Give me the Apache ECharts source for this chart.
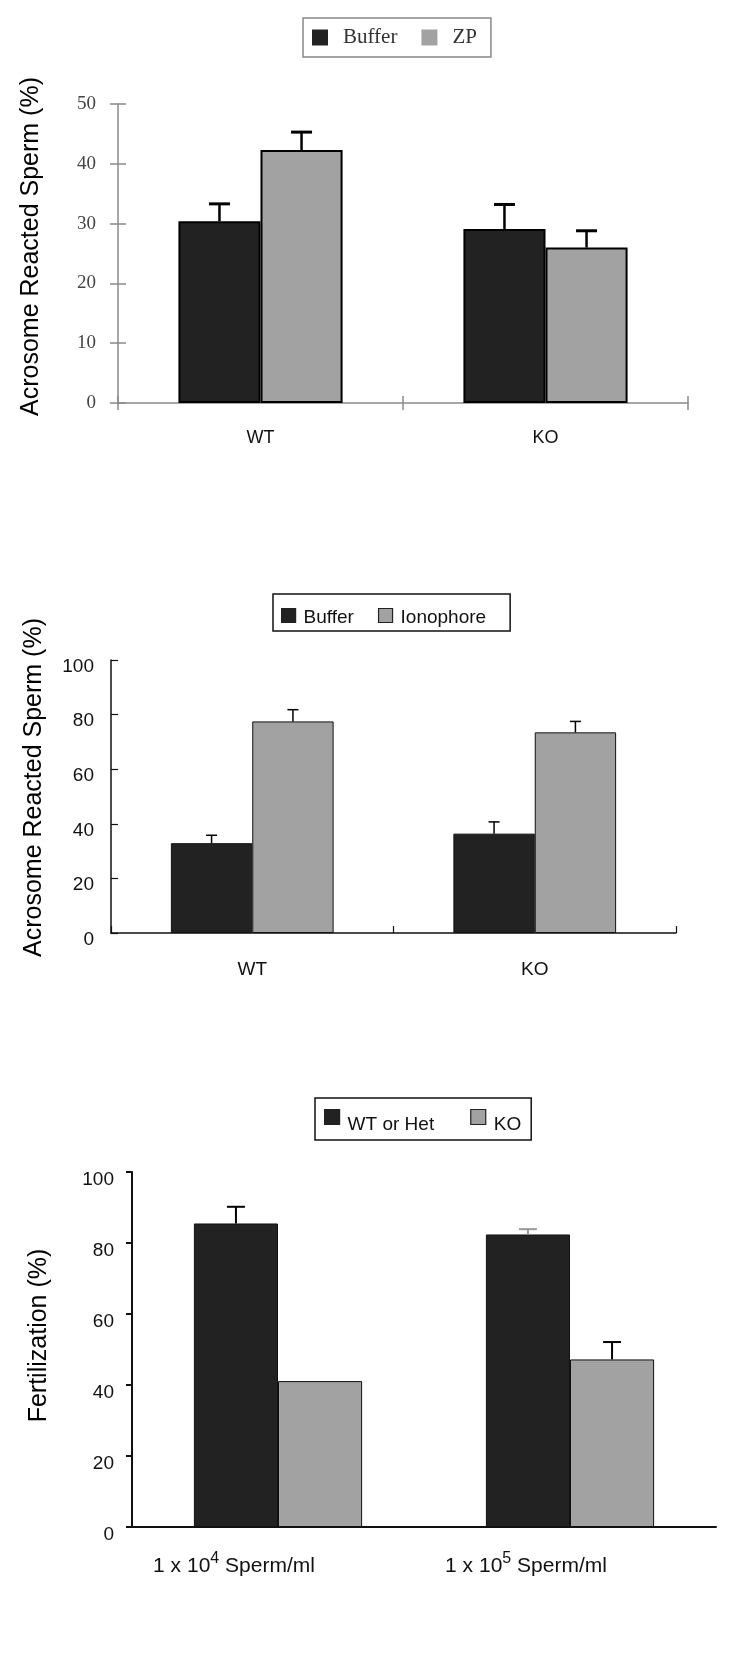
<!DOCTYPE html>
<html>
<head>
<meta charset="utf-8">
<script src="https://cdn.jsdelivr.net/npm/echarts/dist/echarts.min.js"></script>
<style>
  html, body { margin: 0; padding: 0; background: #fff; }
  #wrap { position: relative; width: 750px; height: 1654px; }
  .c { position: absolute; left: 0; width: 750px; }
</style>
</head>
<body>
<div id="wrap">
  <div id="c1" class="c" style="top:0;height:520px"></div>
  <div id="c2" class="c" style="top:520px;height:520px"></div>
  <div id="c3" class="c" style="top:1040px;height:614px"></div>
</div>
<script>
// ---------- data ----------
const cats1 = ['WT', 'KO'];
const names1 = ['Buffer', 'ZP'];
const buffer1 = [30.4, 29.1];
const buffer1Err = [2.9, 4.1];
const zp1 = [42.3, 26.0];
const zp1Err = [3.0, 2.8];
const yTicks1 = { min: 0, max: 50, interval: 10 };
const yTitle1 = 'Acrosome Reacted Sperm (%)';

const cats2 = ['WT', 'KO'];
const names2 = ['Buffer', 'Ionophore'];
const buffer2 = [32.9, 36.4];
const buffer2Err = [2.9, 4.3];
const iono2 = [77.5, 73.5];
const iono2Err = [4.3, 4.0];
const yTicks2 = { min: 0, max: 100, interval: 20 };
const yTitle2 = 'Acrosome Reacted Sperm (%)';

const cats3 = ['1 x 10^4 Sperm/ml', '1 x 10^5 Sperm/ml'];
const names3 = ['WT or Het', 'KO'];
const wt3 = [85.5, 82.4];
const wt3Err = [4.7, 1.5];
const ko3 = [41.1, 47.2];
const ko3Err = [0, 4.9];
const yTicks3 = { min: 0, max: 100, interval: 20 };
const yTitle3 = 'Fertilization (%)';

// ---------- styles ----------
const DARK = '#222222';
const GRAY = '#a2a2a2';
const GAP = 0.424;   // bar category gap fraction

function errSeries(values, errs, side, opt) {
  return {
    type: 'custom',
    xAxisIndex: 0, yAxisIndex: 0,
    z: 10,
    silent: true,
    data: values.map((v, i) => [i, v, errs[i]]),
    encode: { x: 0, y: 1 },
    renderItem: function (params, api) {
      const i = api.value(0), v = api.value(1), e = api.value(2);
      if (!e) return null;
      const p0 = api.coord([i, v]);
      const p1 = api.coord([i, v + e]);
      const band = api.size([1, 0])[0];
      const bw = band * (1 - GAP) / 2;
      const x = p0[0] + (side === 0 ? -bw / 2 : bw / 2);
      const col = (opt.capColors && opt.capColors[i]) || '#000';
      return {
        type: 'group',
        children: [
          { type: 'line', shape: { x1: x, y1: p0[1], x2: x, y2: p1[1] },
            style: { stroke: col, lineWidth: opt.lw } },
          { type: 'line', shape: { x1: x - opt.cap / 2, y1: p1[1], x2: x + opt.cap / 2, y2: p1[1] },
            style: { stroke: col, lineWidth: opt.capLw || opt.lw } }
        ]
      };
    }
  };
}

function barSeries(name, data, color, borderColor, borderWidth) {
  return {
    name: name, type: 'bar', data: data,
    barCategoryGap: (GAP * 100) + '%', barGap: '0%',
    itemStyle: { color: color, borderColor: borderColor, borderWidth: borderWidth },
    z: 2
  };
}

// ---------- chart 1 ----------
(function () {
  const ch = echarts.init(document.getElementById('c1'), null, { renderer: 'canvas' });
  const axCol = '#8a8a8a';
  ch.setOption({
    animation: false,
    legend: {
      left: 303, top: 18, padding: [9, 14, 9, 9],
      itemWidth: 16, itemHeight: 16, itemGap: 24, icon: 'rect',
      borderColor: '#888', borderWidth: 1.5,
      data: names1,
      itemStyle: { borderWidth: 0 },
      textStyle: { fontFamily: 'Liberation Serif', fontSize: 21, color: '#333', padding: [0, 0, 0, 10] }
    },
    grid: { left: 118, right: 62, top: 104, bottom: 117 },
    xAxis: [
      { type: 'category', data: cats1,
        axisLine: { lineStyle: { color: axCol, width: 1.5 } },
        axisTick: { show: true, length: 7, lineStyle: { color: axCol, width: 1.5 } },
        axisLabel: { margin: 26, fontFamily: 'Liberation Sans', fontSize: 18, color: '#111' } },
      { type: 'category', data: cats1, position: 'bottom',
        axisLine: { show: false },
        axisTick: { show: true, inside: true, length: 7, lineStyle: { color: axCol, width: 1.5 } },
        axisLabel: { show: false } }
    ],
    yAxis: [
      Object.assign({ type: 'value', splitLine: { show: false },
        axisLine: { show: true, lineStyle: { color: axCol, width: 1.5 } },
        axisTick: { show: true, length: 8, lineStyle: { color: axCol, width: 1.5 } },
        axisLabel: { margin: 22, fontFamily: 'Liberation Serif', fontSize: 19, color: '#444' },
        name: yTitle1, nameLocation: 'middle', nameGap: 74,
        nameTextStyle: { fontFamily: 'Liberation Sans', fontSize: 25, color: '#000', padding: [0, 0, 0, 14] } }, yTicks1),
      Object.assign({ type: 'value', position: 'left', splitLine: { show: false },
        axisLine: { show: false },
        axisTick: { show: true, inside: true, length: 8, lineStyle: { color: axCol, width: 1.5 } },
        axisLabel: { show: false } }, yTicks1)
    ],
    series: [
      barSeries(names1[0], buffer1, DARK, '#000', 2),
      barSeries(names1[1], zp1, GRAY, '#000', 2),
      errSeries(buffer1, buffer1Err, 0, { lw: 2.5, cap: 21, capLw: 3 }),
      errSeries(zp1, zp1Err, 1, { lw: 2.5, cap: 21, capLw: 3 })
    ]
  });
})();

// ---------- chart 2 ----------
(function () {
  const ch = echarts.init(document.getElementById('c2'), null, { renderer: 'canvas' });
  const axCol = '#111';
  ch.setOption({
    animation: false,
    legend: {
      left: 273, top: 74, padding: [10, 24, 4, 8],
      itemWidth: 14, itemHeight: 14, itemGap: 24, icon: 'rect',
      borderColor: '#111', borderWidth: 1.5,
      data: names2,
      itemStyle: { borderColor: '#222', borderWidth: 1.2 },
      formatter: '{t|{name}}',
      textStyle: { fontFamily: 'Liberation Sans', fontSize: 19, color: '#111',
        rich: { t: { fontFamily: 'Liberation Sans', fontSize: 19, color: '#111', lineHeight: 14, padding: [4, 0, 0, 3] } } }
    },
    grid: { left: 111, right: 74, top: 140, bottom: 107 },
    xAxis: [
      { type: 'category', data: cats2,
        axisLine: { lineStyle: { color: axCol, width: 1.5 } },
        axisTick: { show: true, inside: true, length: 7, lineStyle: { color: axCol, width: 1.2 } },
        axisLabel: { margin: 27, fontFamily: 'Liberation Sans', fontSize: 19, color: '#111' } }
    ],
    yAxis: [
      Object.assign({ type: 'value', splitLine: { show: false },
        axisLine: { show: true, lineStyle: { color: axCol, width: 1.5 } },
        axisTick: { show: true, inside: true, length: 7, lineStyle: { color: axCol, width: 1.2 } },
        axisLabel: { margin: 17, fontFamily: 'Liberation Sans', fontSize: 19, color: '#111',
          verticalAlign: 'top', lineHeight: 13 },
        name: yTitle2, nameLocation: 'middle', nameGap: 64,
        nameTextStyle: { fontFamily: 'Liberation Sans', fontSize: 25, color: '#000', padding: [0, 0, 0, 18] } }, yTicks2)
    ],
    series: [
      barSeries(names2[0], buffer2, DARK, '#111', 1),
      barSeries(names2[1], iono2, GRAY, '#111', 1),
      errSeries(buffer2, buffer2Err, 0, { lw: 1.5, cap: 11 }),
      errSeries(iono2, iono2Err, 1, { lw: 1.5, cap: 11 })
    ]
  });
})();

// ---------- chart 3 ----------
(function () {
  const ch = echarts.init(document.getElementById('c3'), null, { renderer: 'canvas' });
  const axCol = '#111';
  ch.setOption({
    animation: false,
    legend: {
      left: 315, top: 58, padding: [2, 10, 6, 9],
      itemWidth: 15, itemHeight: 15, itemGap: 36, icon: 'rect',
      borderColor: '#111', borderWidth: 1.5,
      data: names3,
      itemStyle: { borderColor: '#222', borderWidth: 1.2 },
      formatter: '{t|{name}}',
      textStyle: { fontFamily: 'Liberation Sans', fontSize: 19, color: '#111',
        rich: { t: { fontFamily: 'Liberation Sans', fontSize: 19, color: '#111', lineHeight: 10, padding: [15, 0, 0, 3] } } }
    },
    grid: { left: 132, right: 34, top: 132, bottom: 127 },
    xAxis: [
      { type: 'category', data: cats3,
        axisLine: { lineStyle: { color: axCol, width: 2 } },
        axisTick: { show: false },
        axisLabel: { margin: 24, fontFamily: 'Liberation Sans', fontSize: 21, color: '#111',
          padding: [0, 88, 0, 0],
          formatter: function (v) { return v.replace(/\^(\d+)/, '{s|$1}'); },
          rich: { s: { fontFamily: 'Liberation Sans', fontSize: 16, color: '#111', padding: [0, 0, 15, 0] } } } }
    ],
    yAxis: [
      Object.assign({ type: 'value', splitLine: { show: false },
        axisLine: { show: true, lineStyle: { color: axCol, width: 2 } },
        axisTick: { show: true, length: 6, lineStyle: { color: axCol, width: 2 } },
        axisLabel: { margin: 18, fontFamily: 'Liberation Sans', fontSize: 19, color: '#111',
          verticalAlign: 'top', lineHeight: 16 },
        name: yTitle3, nameLocation: 'middle', nameGap: 80,
        nameTextStyle: { fontFamily: 'Liberation Sans', fontSize: 25, color: '#000', padding: [0, 0, 0, 28] } }, yTicks3)
    ],
    series: [
      barSeries(names3[0], wt3, DARK, '#111', 1),
      barSeries(names3[1], ko3, GRAY, '#111', 1),
      errSeries(wt3, wt3Err, 0, { lw: 2, cap: 18, capColors: ['#000', '#999'] }),
      errSeries(ko3, ko3Err, 1, { lw: 2, cap: 18 })
    ]
  });
})();
</script>
</body>
</html>
